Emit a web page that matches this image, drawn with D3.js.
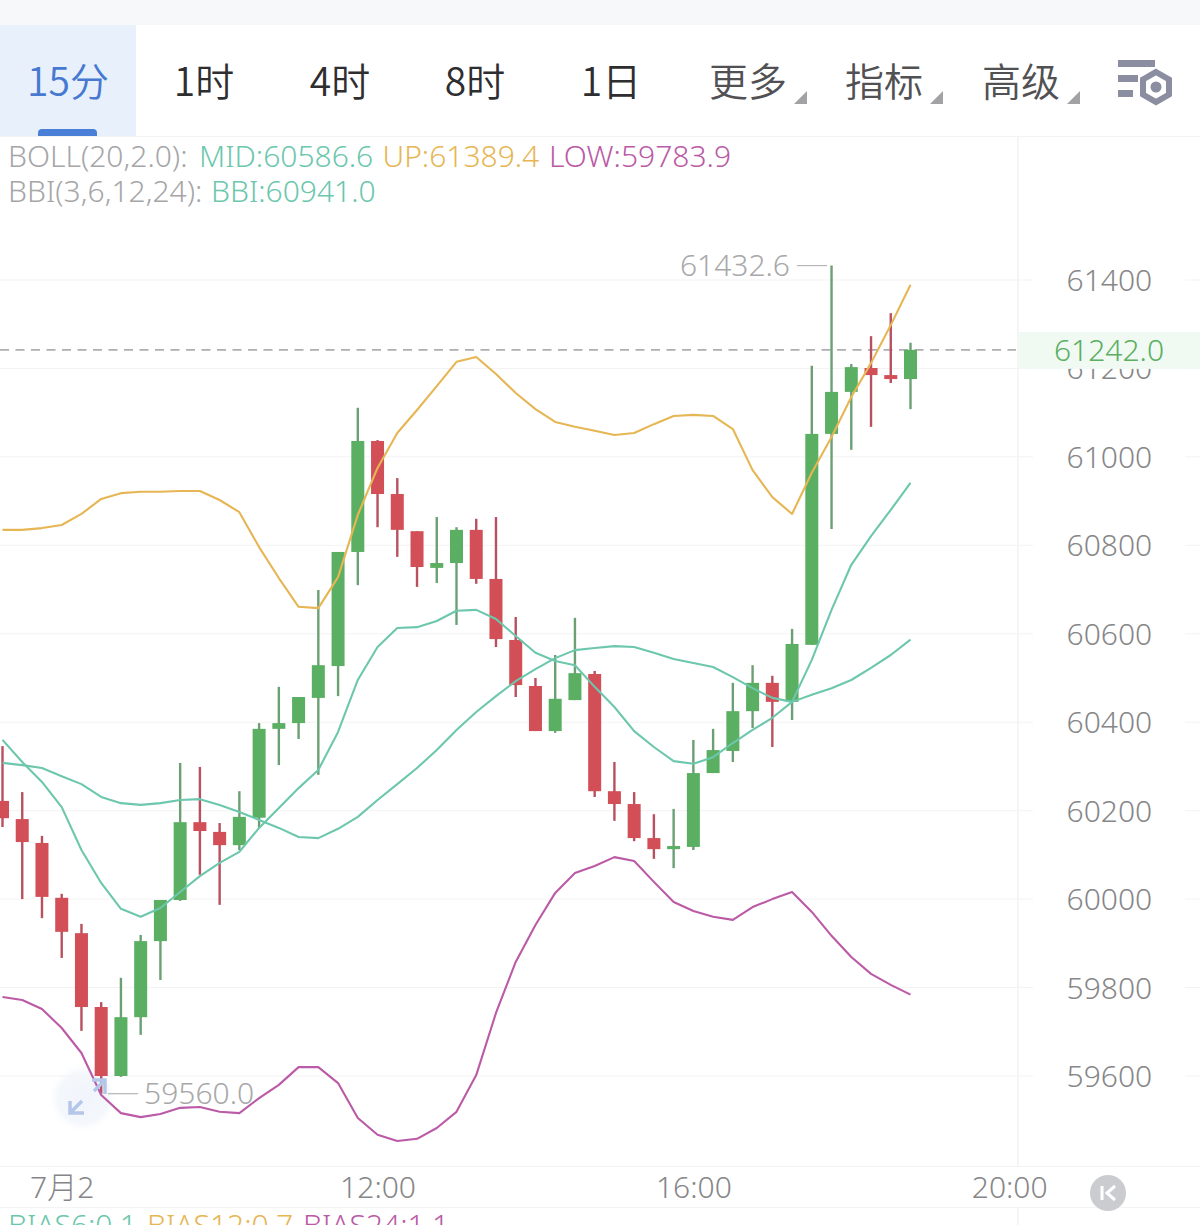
<!DOCTYPE html>
<html lang="zh">
<head>
<meta charset="utf-8">
<title>BTC 15分 K线</title>
<script src="https://cdn.jsdelivr.net/npm/d3@7/dist/d3.min.js"></script>
<style>
  html, body { margin: 0; padding: 0; background: #fff; }
  svg { display: block; }
  text { font-family: "Noto Sans CJK SC", "Noto Sans", sans-serif; }
  text.num, .num text { font-family: "Noto Sans", "Noto Sans CJK SC", sans-serif; font-weight: 300; }
</style>
</head>
<body>
<svg id="chart" width="1200" height="1225"></svg>
<script>
// Price candles, one per 15 minutes
const opens  = [60222,60181,60127,60003,59923,59756,59600,59733,59905,59998,60174,60152,60122,60184,60385,60398,60455,60527,60785,61036,60916,60832,60749,60760,60835,60724,60586,60482,60380,60450,60509,60244,60215,60138,60113,60118,60285,60335,60425,60489,60446,60575,61052,61147,61201,61185,61176];
const highs  = [60346,60242,60143,60012,59944,59767,59822,59919,59998,60308,60299,60172,60244,60398,60480,60457,60699,60785,61111,61038,60952,60832,60864,60841,60860,60864,60638,60500,60552,60636,60516,60310,60242,60192,60204,60360,60385,60489,60529,60505,60611,61206,61432.6,61210,61273,61325,61258];
const lows   = [60163,60000,59957,59867,59702,59560,59598,59693,59817,59996,60055,59987,60111,60161,60303,60362,60281,60459,60710,60841,60774,60706,60715,60620,60713,60570,60457,60380,60376,60450,60231,60177,60131,60091,60070,60111,60285,60310,60387,60344,60405,60575,60837,61016,61068,61167,61108];
const closes = [60183,60129,60005,59926,59756,59600,59733,59905,59998,60174,60154,60122,60186,60385,60398,60457,60529,60785,61036,60916,60835,60751,60760,60835,60724,60588,60484,60380,60453,60511,60244,60215,60138,60113,60120,60285,60337,60425,60489,60446,60577,61052,61147,61203,61185,61176,61242];

// Indicator lines
const bollMid = [60308,60303,60296.5,60278,60260,60231,60217,60213,60217,60224,60226,60213,60197,60179,60161,60140.5,60138,60159,60186,60224,60260,60296.5,60337,60382.5,60423,60459,60493,60520,60545,60563,60568,60572,60570,60557,60543,60534,60525,60502,60477,60455,60446,60462,60477,60495.5,60523,60552,60586.6];
const bollUp  = [60835,60835,60839,60846,60871,60905,60918,60921,60921,60923,60923,60902.5,60875,60796,60726,60661,60658,60728,60869,60975,61054,61106,61160,61215,61226,61187.5,61144.5,61108,61079,61068,61059,61049.5,61054,61074,61092.5,61095,61092.5,61063,60970,60909,60871,60964,61045,61135.5,61212,61298,61389.4];
const bollLow = [59778.7,59772,59751.5,59708.6,59652,59557,59516,59507,59514,59528,59530,59519,59516,59550,59580,59620,59620,59584,59505,59467,59453,59458,59482.5,59519,59602,59742.5,59858,59941.5,60014,60059,60075,60095,60086,60039,59993.5,59973,59960,59953,59982,60000,60016,59971,59917,59869,59831,59806,59783.9];
const bbi     = [60360,60310,60265,60208,60111,60036.5,59978,59960,59980,60016,60052,60082,60107,60161,60206,60251,60292,60378,60495.5,60570,60613,60615,60629,60652,60654,60633.5,60595,60557,60538.5,60529,60480,60434.5,60380,60344,60312,60306,60321,60353,60382.5,60410,60446,60541,60654,60756,60821,60880,60941];

// Axis labels and captions
const priceTicks = [61400,61200,61000,60800,60600,60400,60200,60000,59800,59600];
const timeTicks  = [{i:3,label:"7月2"},{i:19,label:"12:00"},{i:35,label:"16:00"},{i:51,label:"20:00"}];
const tabs       = [{t:"15分",cx:68,on:true},{t:"1时",cx:204},{t:"4时",cx:340},{t:"8时",cx:475},{t:"1日",cx:611}];
const menuTabs   = [{t:"更多",cx:748},{t:"指标",cx:884},{t:"高级",cx:1021}];
const lastPrice  = 61242.0, maxPrice = 61432.6, minPrice = 59560.0;

const C = { up:"#5aaf62", down:"#d24f58", upWick:"#6c9f74", downWick:"#b8505f",
            teal:"#6cc7ad", gold:"#e6b654", plum:"#bb5aa6", grey:"#a6a6a8",
            axis:"#868688", grid:"#f3f3f4" };

const svg = d3.select("#chart");
const x = d3.scaleLinear().domain([0,46]).range([2.5,910.5]);
const y = d3.scaleLinear().domain([59600,61400]).range([1076,280]);

// Toolbar
svg.append("rect").attr("width",1200).attr("height",25).attr("fill","#f7f8fa");
svg.append("rect").attr("y",25).attr("width",136).attr("height",111).attr("fill","#e8f0fc");
svg.append("path").attr("d","M38,136v-3a4,4 0 0 1 4,-4h51a4,4 0 0 1 4,4v3z").attr("fill","#4a7fd8");
svg.append("line").attr("x1",0).attr("x2",1200).attr("y1",136.5).attr("y2",136.5).attr("stroke","#f3f3f5");

svg.selectAll("text.tab").data(tabs).join("text").attr("class","tab")
  .attr("x",d=>d.cx).attr("y",96).attr("text-anchor","middle")
  .attr("font-size",39).attr("font-weight",350)
  .attr("fill",d=>d.on?"#4679cf":"#2e2e30").text(d=>d.t);
svg.selectAll("text.menu").data(menuTabs).join("text").attr("class","menu")
  .attr("x",d=>d.cx).attr("y",96).attr("text-anchor","middle")
  .attr("font-size",39).attr("font-weight",350).attr("fill","#515154").text(d=>d.t);
svg.selectAll("path.corner").data(menuTabs).join("path").attr("class","corner")
  .attr("transform",d=>`translate(${d.cx+46},104)`)
  .attr("d","M13,-13V0H0Z").attr("fill","#a2a2a4");

// Settings glyph: three bars beside a hex nut
const gear = svg.append("g").attr("fill","#8b8ea0");
gear.append("rect").attr("x",1118).attr("y",60).attr("width",37).attr("height",7);
gear.append("rect").attr("x",1118).attr("y",75).attr("width",20).attr("height",7);
gear.append("rect").attr("x",1118).attr("y",90).attr("width",15).attr("height",7);
const hexPts = d3.range(6).map(k=>[1156+15*Math.sin(k*Math.PI/3),87-15*Math.cos(k*Math.PI/3)]);
gear.append("path").attr("d",d3.line().curve(d3.curveLinearClosed)(hexPts))
  .attr("fill","none").attr("stroke","#8b8ea0").attr("stroke-width",6);
gear.append("circle").attr("cx",1156).attr("cy",87).attr("r",5.5);

// Price axis background, gridlines and dividers
svg.append("line").attr("x1",1018).attr("x2",1018).attr("y1",137).attr("y2",1166).attr("stroke","#f2f2f3").attr("stroke-width",1.5);
svg.append("line").attr("x1",1018).attr("x2",1018).attr("y1",1207).attr("y2",1225).attr("stroke","#f2f2f3").attr("stroke-width",1.5);
const gridG = svg.append("g");
gridG.selectAll("line.g1").data(priceTicks).join("line").attr("class","g1")
  .attr("x1",0).attr("x2",1033).attr("y1",d=>y(d)).attr("y2",d=>y(d)).attr("stroke",C.grid);
gridG.selectAll("line.g2").data(priceTicks).join("line").attr("class","g2")
  .attr("x1",1185).attr("x2",1200).attr("y1",d=>y(d)).attr("y2",d=>y(d)).attr("stroke",C.grid);
svg.append("line").attr("x1",0).attr("x2",1200).attr("y1",1166.5).attr("y2",1166.5).attr("stroke","#f3f3f4");
svg.append("line").attr("x1",0).attr("x2",1200).attr("y1",1207.5).attr("y2",1207.5).attr("stroke","#f3f3f4");

// Price labels, drawn by d3.axisRight with its line and ticks removed
const yAxis = d3.axisRight(y).tickValues(priceTicks).tickSize(0).tickPadding(0).tickFormat(d3.format("d"));
const yG = svg.append("g").attr("class","num").attr("transform","translate(1066.5,0)").call(yAxis);
yG.select(".domain").remove();
yG.selectAll("text").attr("font-size",30).attr("fill",C.axis).attr("dy","0.35em");

// Latest price band and label
svg.append("rect").attr("x",1019).attr("y",y(lastPrice)-18).attr("width",181).attr("height",37).attr("fill","#f1f9f3");
svg.append("text").attr("class","num").attr("x",1109).attr("y",y(lastPrice)).attr("dy","0.36em")
  .attr("text-anchor","middle").attr("font-size",30).attr("fill",C.up).text(lastPrice.toFixed(1));
svg.append("line").attr("x1",0).attr("x2",1016).attr("y1",y(lastPrice)).attr("y2",y(lastPrice))
  .attr("stroke","#aeaeb2").attr("stroke-width",1.6).attr("stroke-dasharray","9,6.5");

// Time labels
const xAxis = d3.axisBottom(x).tickValues(timeTicks.map(d=>d.i)).tickSize(0).tickPadding(0)
  .tickFormat(i=>timeTicks.find(d=>d.i===i).label);
const xG = svg.append("g").attr("class","num").attr("transform","translate(0,1187)").call(xAxis);
xG.select(".domain").remove();
xG.selectAll("text").attr("font-size",30).attr("fill",C.axis).attr("dy","0.36em");

// Candles
const barW = 13;
const candles = d3.range(opens.length).map(i=>({i,o:opens[i],h:highs[i],l:lows[i],c:closes[i],rise:closes[i]>=opens[i]}));
const candleG = svg.append("g");
candleG.selectAll("line.wick").data(candles).join("line").attr("class","wick")
  .attr("x1",d=>x(d.i)).attr("x2",d=>x(d.i)).attr("y1",d=>y(d.h)).attr("y2",d=>y(d.l))
  .attr("stroke",d=>d.rise?C.upWick:C.downWick).attr("stroke-width",2.4);
candleG.selectAll("rect.body").data(candles).join("rect").attr("class","body")
  .attr("x",d=>x(d.i)-barW/2).attr("width",barW)
  .attr("y",d=>y(Math.max(d.o,d.c))).attr("height",d=>Math.max(3,Math.abs(y(d.o)-y(d.c))))
  .attr("fill",d=>d.rise?C.up:C.down);

// Indicator lines
const lineGen = d3.line().x((d,i)=>x(i)).y(d=>y(d));
[[bollMid,C.teal],[bbi,C.teal],[bollUp,C.gold],[bollLow,C.plum]].forEach(([vals,col])=>{
  svg.append("path").attr("d",lineGen(vals)).attr("fill","none").attr("stroke",col)
    .attr("stroke-width",2.1).attr("stroke-linejoin","round");
});

// High and low callouts
svg.append("line").attr("x1",797).attr("x2",827).attr("y1",y(maxPrice)).attr("y2",y(maxPrice)).attr("stroke","#b5b5b8").attr("stroke-width",1.2);
svg.append("text").attr("class","num").attr("x",790).attr("y",y(maxPrice)).attr("dy","0.36em").attr("text-anchor","end")
  .attr("font-size",30).attr("fill","#a8a8aa").text(maxPrice.toFixed(1));
svg.append("line").attr("x1",108).attr("x2",138).attr("y1",y(minPrice)).attr("y2",y(minPrice)).attr("stroke","#b5b5b8").attr("stroke-width",1.2);
svg.append("text").attr("class","num").attr("x",144).attr("y",y(minPrice)).attr("dy","0.36em")
  .attr("font-size",30).attr("fill","#a8a8aa").text(minPrice.toFixed(1));

// Expand control over the lower left of the plot
const grad = svg.append("defs").append("radialGradient").attr("id","expandGlow");
grad.append("stop").attr("offset","0%").attr("stop-color","#f1f5fb");
grad.append("stop").attr("offset","70%").attr("stop-color","#f4f7fc");
grad.append("stop").attr("offset","100%").attr("stop-color","#ffffff").attr("stop-opacity",0);
svg.insert("circle","g").attr("cx",83).attr("cy",1098).attr("r",36).attr("fill","url(#expandGlow)");
svg.append("path").attr("d","M70,1101V1113H84M70,1113L82,1101M92,1080H105V1094M105,1080L94,1091")
  .attr("fill","none").attr("stroke","#b4c6ea").attr("stroke-width",3.5);

// Legend rows, each caption placed at its own column
function legendRow(yPos, parts){
  const t = svg.append("text").attr("class","num").attr("y",yPos).attr("font-size",30);
  parts.forEach(([s,c,px])=>t.append("tspan").attr("x",px).attr("fill",c).text(s));
}
legendRow(167,[["BOLL(20,2.0):",C.grey,8],["MID:60586.6",C.teal,199],["UP:61389.4",C.gold,382.5],["LOW:59783.9",C.plum,549]]);
legendRow(202,[["BBI(3,6,12,24):",C.grey,8],["BBI:60941.0",C.teal,211]]);
legendRow(1236,[["BIAS6:0.1",C.teal,8],["BIAS12:0.7",C.gold,147],["BIAS24:1.1",C.plum,303]]);

// Jump-to-latest button
svg.append("circle").attr("cx",1108).attr("cy",1193).attr("r",18).attr("fill","#cbcccf");
svg.append("path").attr("d","M1102,1186V1200M1115,1186L1107,1193L1115,1200").attr("fill","none").attr("stroke","#fff").attr("stroke-width",3);
</script>
</body>
</html>
